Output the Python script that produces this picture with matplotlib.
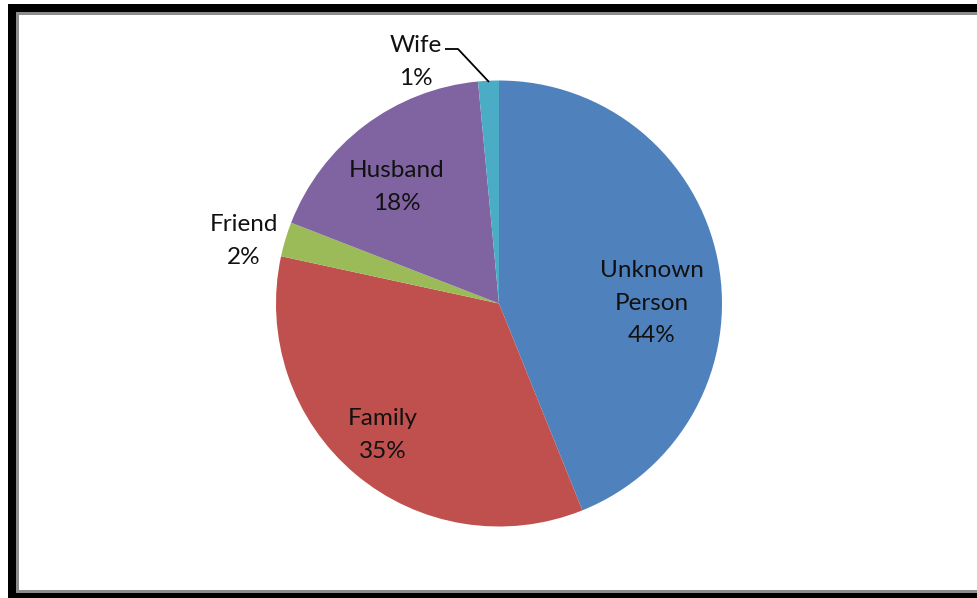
import matplotlib
matplotlib.use("Agg")
import matplotlib.pyplot as plt
from matplotlib.patches import Rectangle

categories = ["Unknown Person", "Family", "Friend", "Husband", "Wife"]
values = [43.9, 34.5, 2.5, 17.6, 1.5]
label_text = ["Unknown\nPerson\n44%", "Family\n35%", "Friend\n2%", "Husband\n18%", "Wife\n1%"]
colors = ["#4F81BD", "#C0504D", "#9BBB59", "#8064A2", "#4BACC6"]

W, H = 977, 598
fig = plt.figure(figsize=(W / 100, H / 100), dpi=100)
fig.patch.set_facecolor("white")

def fr(x0, y0, x1, y1):
    return (x0 / W, 1 - y1 / H), (x1 - x0) / W, (y1 - y0) / H

for i, (x0, y0, x1, y1, c) in enumerate([(8, 4, 990, 610, "black"), (16, 12, 990, 593, "#8c8c8c"), (19, 15, 990, 590, "white")]):
    xy, w, h = fr(x0, y0, x1, y1)
    fig.patches.append(Rectangle(xy, w, h, transform=fig.transFigure, facecolor=c, edgecolor="none", zorder=-10 + i))

cx, cy, r = 499, 303.5, 223
ax = fig.add_axes([(cx - r) / W, 1 - (cy + r) / H, 2 * r / W, 2 * r / H])
ax.set_zorder(5)
ax.set_facecolor("none")
ax.pie(values, colors=colors, startangle=90, counterclock=False, radius=1,
       wedgeprops=dict(linewidth=0))
ax.set_xlim(-1, 1)
ax.set_ylim(-1, 1)
ax.set_aspect("equal")
ax.axis("off")

def d(px, py):
    return (px - cx) / r, (cy - py) / r

label_px = [(652, 303), (383, 435), (244, 241), (397, 187), (416, 62)]
font = dict(family=["Lato", "DejaVu Sans"], fontsize=17.5, color="#111111", ha="center", va="center",
            linespacing=1.66)
for txt, (px, py) in zip(label_text, label_px):
    x, y = d(px, py)
    ax.text(x, y, txt, clip_on=False, **font)

lx, ly = zip(*[d(445, 49), d(458, 49), d(489, 82)])
ax.plot(lx, ly, color="black", lw=1.3, clip_on=False, solid_capstyle="butt")

fig.savefig("out.png", dpi=100)
